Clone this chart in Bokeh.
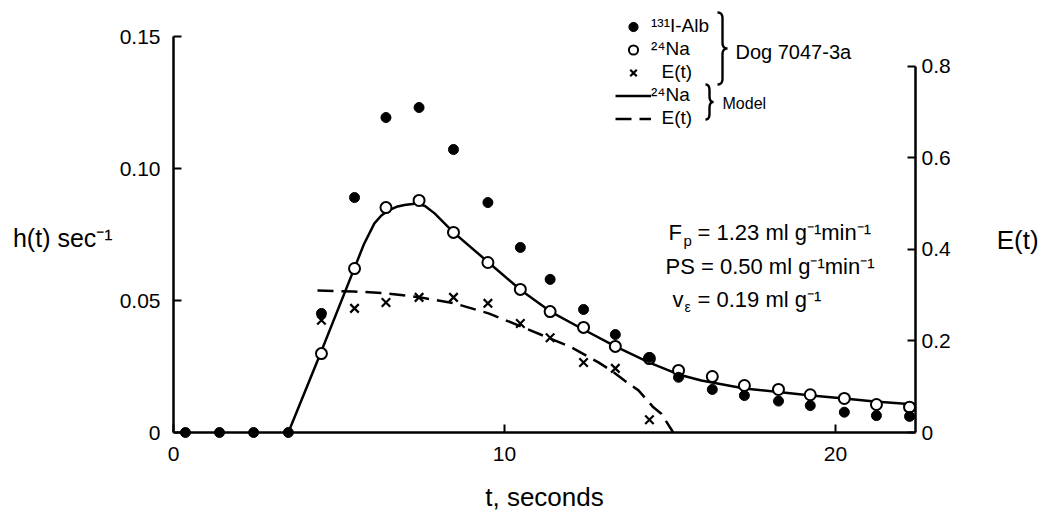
import numpy as np
from bokeh.plotting import figure
from bokeh.models import (Range1d, LinearAxis, FixedTicker, Label, Legend, LegendItem,
                          PolyAnnotation, CustomJSTickFormatter)
from bokeh.core.properties import value
from bokeh.embed import file_html
from bokeh.resources import INLINE

# ---------------- data ----------------
t_obs = [0.36, 1.39, 2.42, 3.47, 4.47, 5.47, 6.42, 7.42, 8.46, 9.5, 10.48, 11.38,
         12.39, 13.35, 14.38, 15.26, 16.28, 17.25, 18.28, 19.24, 20.27, 21.24, 22.24]
h_alb = [0, 0, 0, 0, 0.0451, 0.0890, 0.1193, 0.1231, 0.1072, 0.0871, 0.0701, 0.0580,
         0.0466, 0.0371, 0.0284, 0.0209, 0.0163, 0.0140, 0.0119, 0.0102, 0.0077, 0.0064, 0.0061]
t_na = t_obs[4:]
h_na = [0.0299, 0.0621, 0.0852, 0.0879, 0.0758, 0.0644, 0.0542, 0.0458, 0.0398, 0.0326,
        0.0280, 0.0235, 0.0212, 0.0178, 0.0163, 0.0143, 0.0129, 0.0106, 0.0096]
t_e = t_obs[4:15]
e_obs = [0.245, 0.271, 0.284, 0.295, 0.295, 0.282, 0.238, 0.207, 0.153, 0.140, 0.028]

t_model_na = [3.47, 4.44, 5.44, 5.75, 6.07, 6.28, 6.50, 6.74, 6.98, 7.34, 7.60, 7.89, 8.46,
              9.52, 10.51, 11.39, 12.33, 13.35, 14.38, 15.26, 15.95, 17.25, 19.27, 20.27,
              21.18, 22.42]
h_model_na = [0, 0.0299, 0.0614, 0.0712, 0.0792, 0.0822, 0.0841, 0.0855, 0.0862, 0.0867,
              0.0858, 0.0830, 0.0758, 0.0644, 0.0538, 0.0458, 0.0394, 0.0326, 0.0265,
              0.0220, 0.0197, 0.0167, 0.0140, 0.0129, 0.0117, 0.0106]
t_model_e = [4.35, 5.44, 6.42, 7.46, 8.49, 9.52, 10.42, 11.39, 12.02, 12.84, 13.23,
             13.75, 14.05, 14.5, 14.74, 15.1]
e_model = [0.310, 0.308, 0.304, 0.295, 0.282, 0.260, 0.234, 0.205, 0.186, 0.153, 0.135,
           0.107, 0.092, 0.055, 0.041, 0.0]

h_ticks = [0, 0.05, 0.10, 0.15]
e_ticks = [0, 0.2, 0.4, 0.6, 0.8]
t_ticks = [0, 10, 20]

legend_labels = ["\u00b9\u00b3\u00b9I-Alb", "\u00b2\u2074Na", "\u00a0\u00a0E(t)",
                 "\u00b2\u2074Na", "\u00a0\u00a0E(t)"]

# ---------------- layout ----------------
FONT = "Liberation Sans"
W, H = 1050, 525
FL, FR, FT, FB = 173, 915, 10, 432          # frame edges in page px
X_END = 22.42
SX = (FR - FL) / X_END
SY = 396 / 0.15                             # px per h unit (0.15 tick at page y 36)
SE = 458.0                                  # px per E unit
H_END = (FB - FT) / SY
E_END = (FB - FT) / SE


def dx(px):
    return (px - FL) / SX


def dy(py):
    return (FB - py) / SY


p = figure(width=W, height=H, output_backend="svg", toolbar_location=None,
           x_range=Range1d(0, X_END), y_range=Range1d(0, H_END),
           min_border_left=FL, min_border_right=W - FR,
           min_border_top=FT, min_border_bottom=H - FB)
p.outline_line_color = None
p.grid.visible = False
p.background_fill_color = "white"
p.border_fill_color = "white"
p.extra_y_ranges = {"E": Range1d(0, E_END)}


def style_axis(ax, size="21px"):
    ax.axis_line_width = 2.5
    ax.axis_line_color = "black"
    ax.major_tick_line_width = 2
    ax.major_tick_line_color = "black"
    ax.major_tick_in = 8
    ax.major_tick_out = 0
    ax.minor_tick_in = 0
    ax.minor_tick_out = 0
    ax.major_label_text_font = FONT
    ax.major_label_text_font_size = size
    ax.major_label_text_color = "black"
    ax.axis_label_text_font = FONT
    ax.axis_label_text_font_style = "normal"
    ax.axis_label_text_color = "black"


ya = p.yaxis[0]
style_axis(ya)
ya.ticker = FixedTicker(ticks=h_ticks)
ya.formatter = CustomJSTickFormatter(code="return tick == 0 ? '0' : tick.toFixed(2)")
ya.bounds = (0, 0.15)
ya.major_label_standoff = 13
ya.axis_label = "\nh(t) sec\u207b\u00b9"
ya.axis_label_orientation = "horizontal"
ya.axis_label_text_font_size = "25px"
ya.axis_label_standoff = 4

xa = p.xaxis[0]
style_axis(xa)
xa.ticker = FixedTicker(ticks=t_ticks)
xa.major_label_standoff = 14
xa.axis_label = "t, seconds"
xa.axis_label_text_font_size = "26px"
xa.axis_label_standoff = 18

ra = LinearAxis(y_range_name="E")
style_axis(ra)
ra.ticker = FixedTicker(ticks=e_ticks)
ra.formatter = CustomJSTickFormatter(code="return tick == 0 ? '0' : tick.toFixed(1)")
ra.bounds = (0, 0.8)
ra.major_label_standoff = 6
ra.axis_label = "\nE(t)"
ra.axis_label_orientation = "horizontal"
ra.axis_label_text_font_size = "26px"
ra.axis_label_standoff = 43
p.add_layout(ra, "right")

# ---------------- data marks ----------------
na_line = p.line(t_model_na, h_model_na, line_width=2.5, line_color="black")
e_line = p.line(t_model_e, e_model, y_range_name="E", line_width=2.5,
                line_color="black", line_dash="16 8")
open_r = p.scatter(t_na, h_na, marker="circle", size=11, fill_color="white",
                   line_color="black", line_width=2, level="overlay")
fill_r = p.scatter(t_obs, h_alb, marker="circle", size=10, fill_color="black",
                   line_color="black", level="overlay")
x_r = p.scatter(t_e, e_obs, y_range_name="E", marker="x", size=12, line_width=2.2,
                line_color="black", level="overlay")

# ---------------- legend ----------------
ROW = 23
legend = Legend(items=[LegendItem(label=value(legend_labels[0]), renderers=[fill_r]),
                       LegendItem(label=value(legend_labels[1]), renderers=[open_r]),
                       LegendItem(label=value(legend_labels[2]), renderers=[x_r]),
                       LegendItem(label=value(legend_labels[3]), renderers=[na_line]),
                       LegendItem(label=value(legend_labels[4]), renderers=[e_line])],
                location=(615 - FL, FB - (26 - ROW / 2 + 5 * ROW)), orientation="vertical",
                glyph_width=36, glyph_height=ROW, label_height=ROW, label_width=10,
                spacing=0, padding=0, margin=0, label_standoff=0,
                border_line_color=None, background_fill_alpha=0,
                label_text_font=FONT, label_text_font_size="19px",
                label_text_color="black")
p.add_layout(legend)


# braces (decoration)
def brace(x0, w, y0, y1, th=2.4, r=6.0, n=14):
    ym = (y0 + y1) / 2
    pts = []
    s = np.linspace(0, 1, n)
    xc = x0 + w / 2
    for u in s:
        pts.append(((1 - u) ** 2 * x0 + 2 * u * (1 - u) * xc + u ** 2 * xc,
                    (1 - u) ** 2 * y0 + 2 * u * (1 - u) * y0 + u ** 2 * (y0 + r)))
    for u in s:
        pts.append(((1 - u) ** 2 * xc + 2 * u * (1 - u) * xc + u ** 2 * (x0 + w),
                    (1 - u) ** 2 * (ym - r) + 2 * u * (1 - u) * ym + u ** 2 * ym))
    for u in s:
        pts.append(((1 - u) ** 2 * (x0 + w) + 2 * u * (1 - u) * xc + u ** 2 * xc,
                    (1 - u) ** 2 * ym + 2 * u * (1 - u) * ym + u ** 2 * (ym + r)))
    for u in s:
        pts.append(((1 - u) ** 2 * xc + 2 * u * (1 - u) * xc + u ** 2 * x0,
                    (1 - u) ** 2 * (y1 - r) + 2 * u * (1 - u) * y1 + u ** 2 * y1))
    a = np.array(pts)
    d = np.gradient(a, axis=0)
    nrm = np.stack([-d[:, 1], d[:, 0]], axis=1)
    nrm /= np.maximum(np.linalg.norm(nrm, axis=1, keepdims=True), 1e-9)
    outer = a + nrm * th / 2
    inner = a - nrm * th / 2
    poly = np.vstack([outer, inner[::-1]])
    return [dx(v) for v in poly[:, 0]], [dy(v) for v in poly[:, 1]]


for (bx, bw, by0, by1) in [(717, 10, 12, 84), (705, 8, 84, 119)]:
    xs, ys = brace(bx, bw, by0, by1)
    p.add_layout(PolyAnnotation(xs=xs, ys=ys, fill_color="black", fill_alpha=1.0,
                                line_color=None))


def lab(text, px, py, size, align="left"):
    p.add_layout(Label(x=dx(px), y=dy(py), text=text, text_font=FONT,
                       text_font_size=size, text_color="black", text_align=align,
                       text_baseline="middle"))


lab("Dog 7047-3a", 735, 51, "20px")
lab("Model", 722, 103, "16px")

# parameter annotation
lab("F", 668, 232, "22px")
lab("p", 683, 240, "15px")
lab("= 1.23 ml g\u207b\u00b9min\u207b\u00b9", 697, 232, "22px")
lab("PS = 0.50 ml g\u207b\u00b9min\u207b\u00b9", 665, 266, "22px")
lab("v", 672, 299, "22px")
lab("\u03b5", 684, 306, "14px")
lab("= 0.19 ml g\u207b\u00b9", 697, 299, "22px")

open("out.html", "w").write(file_html(p, INLINE))
